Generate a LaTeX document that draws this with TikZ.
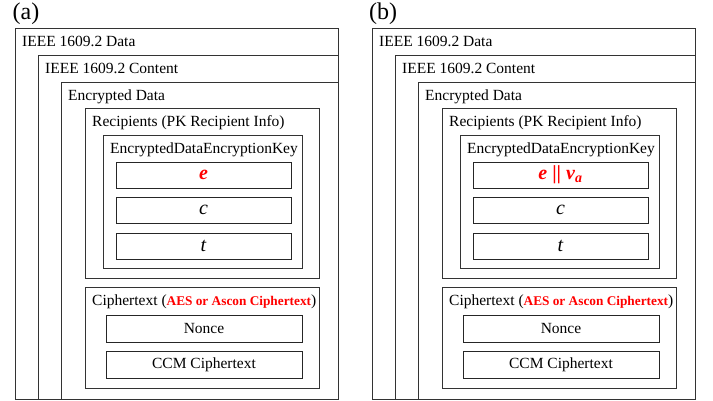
\documentclass[tikz,border=0pt]{standalone}
\usepackage{fontspec}
\setmainfont{Liberation Serif}

\begin{document}
\begin{tikzpicture}[x=1pt, y=-1pt,
    every box/.style={draw=black!80, line width=0.9pt, inner sep=0pt, anchor=north west},
    every field/.style={draw=black!85, line width=0.9pt, inner sep=0pt,
      font=\fontsize{15.5}{18}\selectfont},
    every title/.style={anchor=base west, inner sep=0pt, font=\fontsize{15.5}{18}\selectfont},
    var field/.style={minimum width=175pt, minimum height=26pt, font=\fontsize{20}{22}\selectfont},
    ct field/.style={minimum width=196pt, minimum height=27pt}]

    \useasboundingbox (0,0) rectangle (713,401);

    \foreach \p/\dx/\key in {a/0/{\textcolor{red}{\textbf{\textit{e}}}},
        b/357/{\textcolor{red}{\textbf{\textit{e} || \textit{v}\textsubscript{\textit{a}}}}}} {

      \node [font=\fontsize{24}{26}\selectfont, inner sep=0pt] (label-\p) at (\dx+26,13.5) {(\p)};

      % nested containers
      \node [every box/.try, minimum width=323pt, minimum height=371pt] (data-\p) at (\dx+15,28) {};
      \node [every box/.try, minimum width=300pt, minimum height=344pt] (content-\p) at (\dx+38,55) {};
      \node [every box/.try, minimum width=277pt, minimum height=317pt] (encrypted-\p) at (\dx+61,82) {};
      \node [every box/.try, minimum width=234pt, minimum height=170pt] (recipients-\p) at (\dx+85,108) {};
      \node [every box/.try, minimum width=199pt, minimum height=133pt] (edek-\p) at (\dx+103,135) {};
      \node [every box/.try, minimum width=234pt, minimum height=101pt] (ciphertext-\p) at (\dx+85,287) {};

      \foreach \b/\t in {data/{IEEE 1609.2 Data}, content/{IEEE 1609.2 Content},
          encrypted/{Encrypted Data}, recipients/{Recipients (PK Recipient Info)},
          edek/{EncryptedDataEncryptionKey},
          ciphertext/{Ciphertext (\textcolor{red}{\fontsize{13.3}{16}\selectfont\textbf{AES or Ascon Ciphertext}})}}
        \node [every title/.try] (\b-\p-title) at ([xshift=7pt, yshift=-18.5pt]\b-\p.north west) {\t};

      % fields of the key
      \foreach \f/\y/\t in {key/175/\key, c/210/\textit{c}, t/246/\textit{t}}
        \node [every field/.try, var field] (\f-\p) at (\dx+203.5,\y) {\t};

      % fields of the ciphertext
      \foreach \f/\y/\t in {nonce/328.5/Nonce, ccm/365/CCM Ciphertext}
        \node [every field/.try, ct field] (\f-\p) at (\dx+204,\y) {\t};
    }

\end{tikzpicture}
\end{document}
